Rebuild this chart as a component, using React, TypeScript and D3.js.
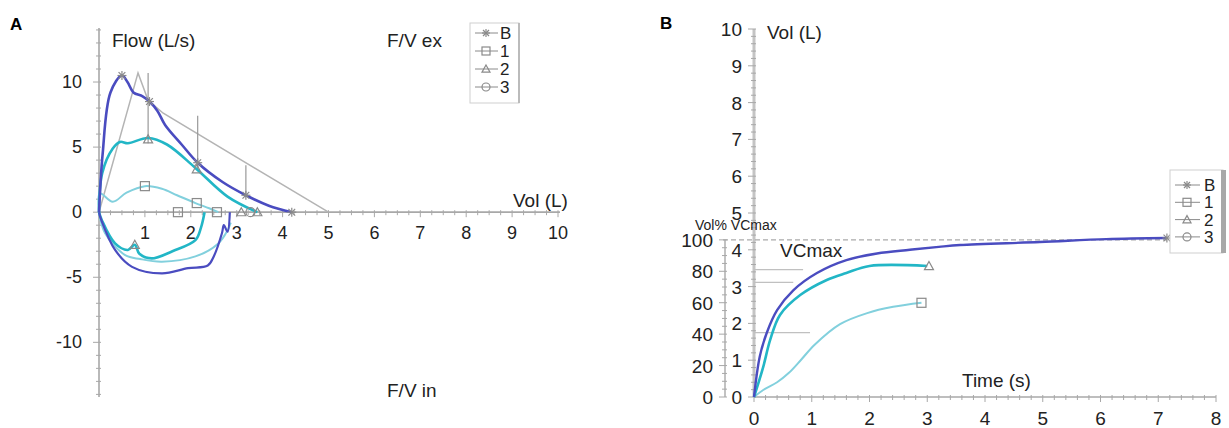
import React from "react";
import * as d3 from "d3";

// ---------- Panel A data (Flow-Volume) ----------
const aXTicks = [1, 2, 3, 4, 5, 6, 7, 8, 9, 10];
const aYTicks = [10, 5, 0, -5, -10];

const aRefLine: [number, number][] = [[0, 0], [0.85, 10.7], [1.07, 8.6], [1.4, 7.6], [5.0, 0]];
const aErrBars: [number, number, number][] = [[0.85, 10.7, 10.7], [1.07, 5.3, 10.7], [2.15, 3.2, 7.4], [3.2, 1.2, 3.6]];

const aSeriesBExp: [number, number][] = [[0, 0], [0.08, 4.5], [0.25, 9.2], [0.5, 10.5], [0.62, 10.0], [0.75, 9.2], [0.95, 8.9], [1.1, 8.5], [1.27, 7.8], [1.44, 6.7], [1.8, 5.2], [2.15, 3.8], [2.7, 2.3], [3.2, 1.3], [3.7, 0.5], [4.2, 0]];
const aSeriesBIns: [number, number][] = [[2.85, 0], [2.8, -1.5], [2.72, -1.0], [2.68, -1.6], [2.5, -3.4], [2.37, -4.1], [1.94, -4.3], [1.37, -4.7], [0.72, -4.2], [0.35, -2.9], [0.05, -0.6], [0, 0]];
const aSeries2Exp: [number, number][] = [[0, 0], [0.07, 3.0], [0.3, 4.9], [0.46, 5.4], [0.63, 5.3], [1.07, 5.7], [1.48, 5.2], [2.1, 3.4], [2.8, 1.2], [3.45, 0]];
const aSeries2Ins: [number, number][] = [[2.3, 0], [2.22, -1.2], [2.1, -2.15], [1.6, -3.0], [1.15, -3.55], [0.88, -3.2], [0.78, -2.5], [0.63, -2.9], [0.35, -2.4], [0.06, -0.6], [0, 0]];
const aSeries1Exp: [number, number][] = [[0, 0], [0.02, 1.45], [0.3, 0.8], [0.6, 1.5], [1.0, 2.0], [1.37, 1.8], [1.7, 1.3], [2.1, 0.7], [2.4, 0.3], [2.6, 0]];
const aSeries1Ins: [number, number][] = [[2.87, -0.8], [2.8, -1.4], [2.6, -2.4], [2.1, -3.4], [1.37, -3.8], [0.9, -3.6], [0.57, -3.3], [0.13, -1.6], [0, 0]];

const aMarkB: [number, number][] = [[0.5, 10.5], [1.1, 8.5], [2.15, 3.8], [3.2, 1.3], [4.2, 0]];
const aMark1: [number, number][] = [[1.0, 2.0], [2.13, 0.7], [1.72, 0], [2.57, 0]];
const aMark2: [number, number][] = [[1.07, 5.6], [2.13, 3.3], [0.78, -2.5], [3.1, 0], [3.45, 0]];
const aMark3: [number, number][] = [[3.3, 0]];

// ---------- Panel B data (Volume-Time) ----------
const bTimeTicks = [0, 1, 2, 3, 4, 5, 6, 7, 8];
const bVolTicks = [0, 1, 2, 3, 4, 5, 6, 7, 8, 9, 10];
const bPctTicks = [0, 20, 40, 60, 80, 100];
const bVCmax = 4.27;

const bSeriesB: [number, number][] = [[0, 0], [0.1, 1.1], [0.22, 1.74], [0.4, 2.36], [0.68, 2.9], [1.09, 3.37], [1.6, 3.72], [2.13, 3.9], [2.7, 4.0], [3.2, 4.08], [3.57, 4.13], [4.95, 4.21], [6.1, 4.29], [7.15, 4.32]];
const bSeries2: [number, number][] = [[0, 0], [0.16, 0.82], [0.28, 1.55], [0.45, 2.23], [0.8, 2.77], [1.26, 3.18], [1.6, 3.37], [2.0, 3.56], [3.0, 3.56]];
const bSeries1: [number, number][] = [[0, 0], [0.16, 0.19], [0.4, 0.4], [0.6, 0.65], [0.82, 1.02], [1.05, 1.42], [1.49, 1.98], [1.96, 2.28], [2.41, 2.45], [2.9, 2.56]];
const bRefLevels: [number, number][] = [[81, 0.85], [73, 0.68], [41, 0.97]];

const legendLabels = ["B", "1", "2", "3"];
const markerKinds = ["star", "square", "triangle", "circle"];

const FONT = "'Liberation Sans Narrow', 'Arial Narrow', 'Liberation Sans', Arial, sans-serif";
const C_B = "#4a4cc0";
const C_2 = "#22b6c6";
const C_1 = "#82d0dd";
const C_GREY = "#b4b4b4";
const C_AXIS = "#a8a8a8";
const C_MARK = "#8a8a8a";

function Marker({ kind, x, y, s = 4.5 }: { kind: string; x: number; y: number; s?: number }) {
  const st = { fill: "none", stroke: C_MARK, strokeWidth: 1.2 };
  if (kind === "star") {
    return (
      <g {...st}>
        <line x1={x - s} y1={y} x2={x + s} y2={y} />
        <line x1={x} y1={y - s} x2={x} y2={y + s} />
        <line x1={x - s * 0.75} y1={y - s * 0.75} x2={x + s * 0.75} y2={y + s * 0.75} />
        <line x1={x - s * 0.75} y1={y + s * 0.75} x2={x + s * 0.75} y2={y - s * 0.75} />
      </g>
    );
  }
  if (kind === "square") return <rect x={x - s} y={y - s} width={2 * s} height={2 * s} {...st} />;
  if (kind === "triangle")
    return <path d={`M${x},${y - s} L${x + s},${y + s * 0.8} L${x - s},${y + s * 0.8} Z`} {...st} />;
  return <circle cx={x} cy={y} r={s} {...st} />;
}

function PanelA() {
  const x = d3.scaleLinear().domain([0, 10]).range([99, 558]);
  const y = d3.scaleLinear().domain([-14.2, 14.15]).range([397, 28]);
  const line = d3.line<[number, number]>().x((d) => x(d[0])).y((d) => y(d[1])).curve(d3.curveCatmullRom.alpha(0.5));
  const straight = d3.line<[number, number]>().x((d) => x(d[0])).y((d) => y(d[1]));
  const xMinor = d3.range(0, 10.001, 0.25);
  const yMinor = d3.range(-14, 14.001, 1);
  return (
    <g fontFamily={FONT}>
      <text x={10} y={30} fontSize={17} fontWeight="bold" fontFamily="'Liberation Sans', Arial, sans-serif">A</text>
      {/* axes */}
      <line x1={x(0)} y1={y(-14.2)} x2={x(0)} y2={y(14.15)} stroke={C_AXIS} strokeWidth={1.6} />
      {yMinor.map((v) => (
        <line key={"ym" + v} x1={x(0) - (v % 5 === 0 ? 6 : 3)} x2={x(0) + 2} y1={y(v)} y2={y(v)} stroke={C_AXIS} strokeWidth={1} />
      ))}
      <line x1={x(0)} y1={y(0)} x2={x(10) + 2} y2={y(0)} stroke={C_AXIS} strokeWidth={1.6} />
      {xMinor.map((v) => (
        <line key={"xm" + v} x1={x(v)} x2={x(v)} y1={y(0) - 2} y2={y(0) + (Number.isInteger(v) ? 5 : 3)} stroke={C_AXIS} strokeWidth={1} />
      ))}
      {aXTicks.map((v) => (
        <text key={"xt" + v} x={x(v)} y={y(0) + 27} fontSize={18} textAnchor="middle" fill="#222">{v}</text>
      ))}
      {aYTicks.map((v) => (
        <text key={"yt" + v} x={82} y={y(v) + 6} fontSize={18} textAnchor="end" fill="#222">{v}</text>
      ))}
      {/* reference line and error bars */}
      <path d={straight(aRefLine) || ""} fill="none" stroke={C_GREY} strokeWidth={1.5} />
      {aErrBars.map((e, i) => (
        <line key={"eb" + i} x1={x(e[0])} x2={x(e[0])} y1={y(e[1])} y2={y(e[2])} stroke="#999" strokeWidth={1.2} />
      ))}
      {/* series */}
      <path d={line(aSeries1Exp) || ""} fill="none" stroke={C_1} strokeWidth={2} />
      <path d={line(aSeries1Ins) || ""} fill="none" stroke={C_1} strokeWidth={2} />
      <path d={line(aSeries2Exp) || ""} fill="none" stroke={C_2} strokeWidth={2.6} />
      <path d={line(aSeries2Ins) || ""} fill="none" stroke={C_2} strokeWidth={2.6} />
      <path d={line(aSeriesBExp) || ""} fill="none" stroke={C_B} strokeWidth={2.6} />
      <path d={line(aSeriesBIns) || ""} fill="none" stroke={C_B} strokeWidth={2.2} />
      {aMarkB.map((p, i) => <Marker key={"mb" + i} kind="star" x={x(p[0])} y={y(p[1])} />)}
      {aMark1.map((p, i) => <Marker key={"m1" + i} kind="square" x={x(p[0])} y={y(p[1])} />)}
      {aMark2.map((p, i) => <Marker key={"m2" + i} kind="triangle" x={x(p[0])} y={y(p[1])} />)}
      {aMark3.map((p, i) => <Marker key={"m3" + i} kind="circle" x={x(p[0])} y={y(p[1])} />)}
      {/* labels */}
      <text x={112} y={47} fontSize={19} fill="#222">Flow (L/s)</text>
      <text x={387} y={47} fontSize={19} fill="#222">F/V ex</text>
      <text x={513} y={207} fontSize={19} fill="#222">Vol (L)</text>
      <text x={387} y={397} fontSize={19} fill="#222">F/V in</text>
      {/* legend */}
      <rect x={470} y={23} width={49} height={80} fill="#fff" stroke="#cfcfcf" strokeWidth={1} />
      <line x1={519} y1={23} x2={519} y2={103} stroke="#bbb" strokeWidth={2} />
      {legendLabels.map((l, i) => {
        const yy = 33 + i * 18;
        return (
          <g key={"la" + l}>
            <line x1={475} x2={498} y1={yy} y2={yy} stroke={C_MARK} strokeWidth={1} />
            <Marker kind={markerKinds[i]} x={486} y={yy} s={4} />
            <text x={500} y={yy + 6} fontSize={17} fill="#222">{l}</text>
          </g>
        );
      })}
    </g>
  );
}

function PanelB() {
  const x = d3.scaleLinear().domain([0, 8]).range([754, 1216]);
  const y = d3.scaleLinear().domain([0, 10]).range([397, 29]);
  const yp = d3.scaleLinear().domain([0, 100]).range([y(0), y(bVCmax)]);
  const line = d3.line<[number, number]>().x((d) => x(d[0])).y((d) => y(d[1])).curve(d3.curveCatmullRom.alpha(0.5));
  const volMinor = d3.range(0, 10.001, 0.2);
  const pctMinor = d3.range(0, 100.001, 5);
  const tMinor = d3.range(0, 8.001, 0.2);
  const pctAxisX = 725;
  return (
    <g fontFamily={FONT}>
      <text x={660} y={29} fontSize={17} fontWeight="bold" fontFamily="'Liberation Sans', Arial, sans-serif">B</text>
      {/* vol axis */}
      <line x1={x(0)} y1={y(0)} x2={x(0)} y2={y(10)} stroke="#c4c4c4" strokeWidth={3} />
      {volMinor.map((v, i) => (
        <line key={"vm" + i} x1={x(0) - (i % 5 === 0 ? 6 : 3)} x2={x(0) + 2} y1={y(v)} y2={y(v)} stroke={C_AXIS} strokeWidth={1} />
      ))}
      {bVolTicks.map((v) => (
        <text key={"vt" + v} x={742} y={y(v) + 7} fontSize={19} textAnchor="end" fill="#222">{v}</text>
      ))}
      {/* pct axis */}
      <line x1={pctAxisX} y1={yp(0)} x2={pctAxisX} y2={yp(100)} stroke={C_AXIS} strokeWidth={1.4} />
      {pctMinor.map((v, i) => (
        <line key={"pm" + i} x1={pctAxisX - (i % 4 === 0 ? 6 : 3)} x2={pctAxisX + 2} y1={yp(v)} y2={yp(v)} stroke={C_AXIS} strokeWidth={1} />
      ))}
      {bPctTicks.map((v) => (
        <text key={"pt" + v} x={713} y={yp(v) + 7} fontSize={19} textAnchor="end" fill="#222">{v}</text>
      ))}
      {/* time axis */}
      <line x1={x(0)} y1={y(0)} x2={x(8)} y2={y(0)} stroke={C_AXIS} strokeWidth={1.6} />
      {tMinor.map((v, i) => (
        <line key={"tm" + i} x1={x(v)} x2={x(v)} y1={y(0) - 2} y2={y(0) + (i % 5 === 0 ? 5 : 3)} stroke={C_AXIS} strokeWidth={1} />
      ))}
      {bTimeTicks.map((v) => (
        <text key={"tt" + v} x={x(v)} y={y(0) + 28} fontSize={19} textAnchor="middle" fill="#222">{v}</text>
      ))}
      {/* reference lines */}
      <line x1={723} x2={x(7.15)} y1={yp(100)} y2={yp(100)} stroke="#aaa" strokeWidth={1.4} strokeDasharray="5,3" />
      {bRefLevels.map((r, i) => (
        <line key={"rl" + i} x1={x(0)} x2={x(r[1])} y1={yp(r[0])} y2={yp(r[0])} stroke="#c0c0c0" strokeWidth={1.2} />
      ))}
      {/* series */}
      <path d={line(bSeries1) || ""} fill="none" stroke={C_1} strokeWidth={2} />
      <path d={line(bSeries2) || ""} fill="none" stroke={C_2} strokeWidth={2.6} />
      <path d={line(bSeriesB) || ""} fill="none" stroke={C_B} strokeWidth={2.4} />
      <Marker kind="star" x={x(bSeriesB[bSeriesB.length - 1][0])} y={y(bSeriesB[bSeriesB.length - 1][1])} />
      <Marker kind="triangle" x={x(bSeries2[bSeries2.length - 1][0] + 0.03)} y={y(bSeries2[bSeries2.length - 1][1])} />
      <Marker kind="square" x={x(bSeries1[bSeries1.length - 1][0])} y={y(bSeries1[bSeries1.length - 1][1])} />
      {/* labels */}
      <text x={767} y={39} fontSize={19} fill="#222">Vol (L)</text>
      <text x={695} y={230} fontSize={14} fill="#222">Vol% VCmax</text>
      <text x={780} y={257} fontSize={19} fill="#222">VCmax</text>
      <text x={962} y={387} fontSize={19} fill="#222">Time (s)</text>
      {/* legend */}
      <rect x={1170} y={170} width={53} height={83} fill="#fff" stroke="#cfcfcf" strokeWidth={1} />
      <rect x={1221} y={170} width={5} height={83} fill="#a8a8a8" />
      {legendLabels.map((l, i) => {
        const yy = 185 + i * 17.3;
        return (
          <g key={"lb" + l}>
            <line x1={1175} x2={1200} y1={yy} y2={yy} stroke={C_MARK} strokeWidth={1} />
            <Marker kind={markerKinds[i]} x={1187} y={yy} s={4} />
            <text x={1204} y={yy + 6} fontSize={17} fill="#222">{l}</text>
          </g>
        );
      })}
    </g>
  );
}

export default function App() {
  return (
    <svg width={1229} height={428} style={{ position: "absolute", left: 0, top: 0, background: "#fff" }}>
      <rect width={1229} height={428} fill="#fff" />
      <PanelA />
      <PanelB />
    </svg>
  );
}
